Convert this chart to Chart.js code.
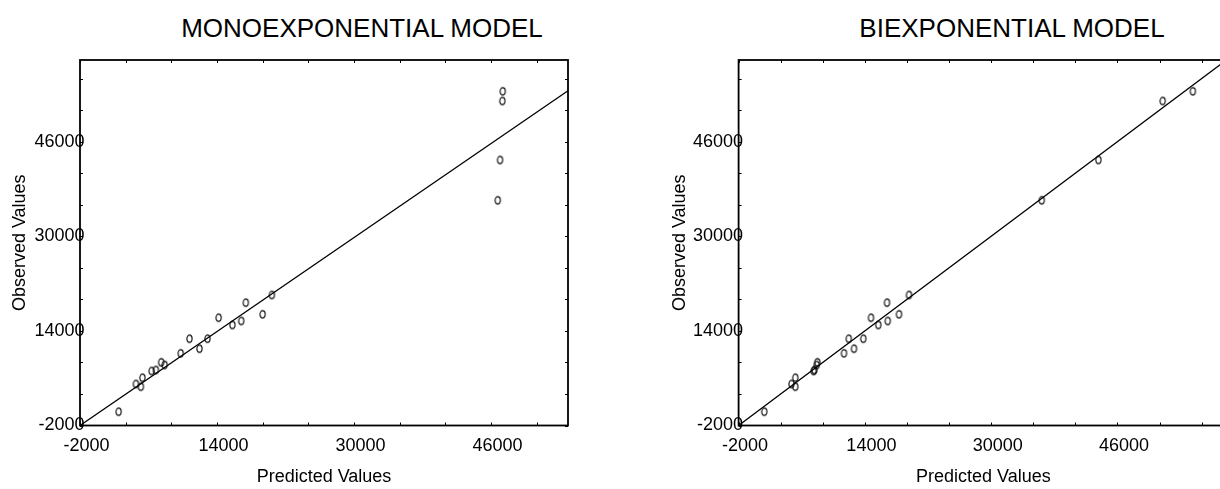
<!DOCTYPE html>
<html><head><meta charset="utf-8">
<script src="https://cdn.jsdelivr.net/npm/chart.js@4.4.1/dist/chart.umd.min.js"></script>
<style>
html,body{margin:0;padding:0;background:#fff;overflow:hidden;width:1220px;height:489px;position:relative;}
.wrap{position:absolute;top:0;height:489px;}
.title{position:absolute;top:13px;font:26px "Liberation Sans",Arial,sans-serif;color:#000;white-space:nowrap;transform:translateX(-50%);}
</style></head><body>
<div class="title" style="left:362px">MONOEXPONENTIAL MODEL</div>
<div class="title" style="left:1012px">BIEXPONENTIAL MODEL</div>
<div class="wrap" style="left:0;width:600px"><canvas id="c1" width="600" height="489"></canvas></div>
<div class="wrap" style="left:660px;width:600px"><canvas id="c2" width="600" height="489"></canvas></div>
<script>
// ---- data ----
const observed      = [334, 4561, 5018, 6083, 7216, 7385, 8231, 8687, 10209, 10987, 12678, 12678, 14995, 15671, 16229, 16804, 18766, 20068, 36082, 42896, 52872, 54514];
const monoPredicted = [2511, 5108, 4533, 5290, 6360, 6857, 7884, 7479, 9757, 11952, 10787, 12891, 15800, 16829, 14188, 19330, 17365, 20405, 46793, 47061, 47330, 47377];
const biPredicted   = [1256, 5180, 4700, 5180, 7500, 7600, 7900, 7970, 11352, 12619, 11947, 13797, 15697, 16888, 14773, 18319, 16799, 19586, 36397, 43580, 51724, 55550];
const xTickLabels = [-2000, 14000, 30000, 46000];
const yTickLabels = [-2000, 14000, 30000, 46000];
const monoFit = [-14, 0.993];   // intercept, slope
const biFit   = [0, 1.0];        // intercept, slope
const monoRange = [-2000, 55000];
const biRange   = [-2000, 60000];
const yRange    = [-2000, 59800];

const FONT = '"Liberation Sans", Arial, sans-serif';
Chart.defaults.font.family = FONT;
Chart.defaults.color = '#000';

// widest y label (used to right-align mirrored labels so they just overlap the frame, as in the reference)
const mctx = document.createElement('canvas').getContext('2d');
mctx.font = '18px ' + FONT;
const widestY = Math.max(...yTickLabels.map(v => mctx.measureText(String(v)).width));

function marker(){
  const c = document.createElement('canvas');
  c.width = 9; c.height = 11;
  const g = c.getContext('2d');
  g.strokeStyle = '#000'; g.lineWidth = 1.1;
  g.beginPath(); g.ellipse(4.5, 5.5, 2.6, 3.6, 0, 0, Math.PI*2); g.stroke();
  return c;
}
const mk = marker();

function withMinor(majors, max){
  const step = (majors[1]-majors[0])/3;
  const out = [];
  for (let v = majors[0]; v <= max + 1e-6; v += step) out.push(Math.round(v*1000)/1000);
  return out;
}

const frameTicks = {
  id: 'frameTicks',
  afterDatasetsDraw(chart){
    const {ctx, chartArea: a, scales: {x, y}} = chart;
    ctx.save();
    ctx.strokeStyle = '#000';
    ctx.lineWidth = 1;
    ctx.beginPath();
    x.ticks.forEach(t => {
      const p = Math.round(x.getPixelForValue(t.value)) + 0.5;
      ctx.moveTo(p, a.bottom); ctx.lineTo(p, a.bottom - 3);
      ctx.moveTo(p, a.top); ctx.lineTo(p, a.top + 3);
    });
    y.ticks.forEach(t => {
      const p = Math.round(y.getPixelForValue(t.value)) + 0.5;
      ctx.moveTo(a.left, p); ctx.lineTo(a.left + 3, p);
      ctx.moveTo(a.right, p); ctx.lineTo(a.right - 3, p);
    });
    ctx.stroke();
    ctx.lineWidth = 1.8;
    ctx.strokeRect(a.left, a.top, a.right - a.left, a.bottom - a.top);
    ctx.restore();
  }
};

function build(id, predicted, fit, xr, yAxisWidth){
  const pts = predicted.map((p, i) => ({x: p, y: observed[i]}));
  const line = xr.map(v => ({x: v, y: fit[0] + fit[1]*v}));
  const xAll = withMinor(xTickLabels, xr[1]);
  const yAll = withMinor(yTickLabels, yRange[1]);
  return new Chart(document.getElementById(id), {
    type: 'scatter',
    data: {datasets: [
      {type: 'line', data: line, borderColor: '#000', borderWidth: 1.3, pointRadius: 0, fill: false, order: 2},
      {data: pts, pointStyle: mk, pointRadius: 4, borderColor: '#000', backgroundColor: 'rgba(0,0,0,0)', order: 1}
    ]},
    options: {
      responsive: false, animation: false, devicePixelRatio: 1,
      layout: {padding: {top: 60, right: 32, left: 0, bottom: 0}},
      plugins: {legend: {display: false}, tooltip: {enabled: false}},
      scales: {
        x: {
          type: 'linear', min: xr[0], max: xr[1],
          afterBuildTicks: s => { s.ticks = xAll.map(v => ({value: v})); },
          afterFit: s => { s.height = 489 - 425.5; },
          grid: {display: false, drawTicks: false}, border: {display: false},
          ticks: {autoSkip: false, maxRotation: 0, padding: 10, labelOffset: 6.5,
                  font: {size: 18}, color: '#000',
                  callback: v => xTickLabels.includes(v) ? String(v) : ''},
          title: {display: true, text: 'Predicted Values', font: {size: 18}, color: '#000', padding: {top: 0, bottom: 1}}
        },
        y: {
          type: 'linear', min: yRange[0], max: yRange[1],
          afterBuildTicks: s => { s.ticks = yAll.map(v => ({value: v})); },
          afterFit: s => { s.width = yAxisWidth; },
          grid: {display: false, drawTicks: false}, border: {display: false},
          ticks: {autoSkip: false, mirror: true, crossAlign: 'far', padding: 5 - widestY - 0.5,
                  font: {size: 18}, color: '#000',
                  callback: v => yTickLabels.includes(v) ? String(v) : ''},
          title: {display: true, text: 'Observed Values', font: {size: 18}, color: '#000', padding: {top: 9, bottom: 0}}
        }
      }
    },
    plugins: [frameTicks]
  });
}

build('c1', monoPredicted, monoFit, monoRange, 80);
build('c2', biPredicted, biFit, biRange, 78.6);
</script>
</body></html>
